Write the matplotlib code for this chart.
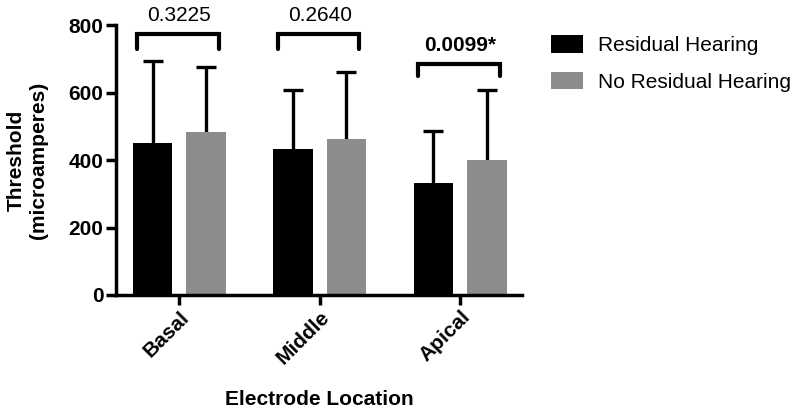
import numpy as np
import matplotlib.pyplot as plt

plt.rcParams['font.family'] = ['Liberation Sans', 'DejaVu Sans']

locations = ['Basal', 'Middle', 'Apical']
residual_mean = [452, 433, 333]
residual_sd = [243, 174, 152]
no_residual_mean = [484, 462, 401]
no_residual_sd = [193, 200, 208]
p_values = ['0.3225', '0.2640', '0.0099*']
p_bold = [False, False, True]
bracket_top = [773, 773, 684]
bracket_leg = [729, 729, 649]

fig = plt.figure(figsize=(8, 4.12), dpi=100)
ax = fig.add_axes([0.145, 0.284, 0.5075, 0.655])

x = np.arange(len(locations))
w = 0.28
off = 0.19
black = '#000000'
gray = '#8c8c8c'

ax.bar(x - off, residual_mean, w, color=black, label='Residual Hearing', zorder=2)
ax.bar(x + off, no_residual_mean, w, color=gray, label='No Residual Hearing', zorder=2)
for xs, m, sd in [(x - off, residual_mean, residual_sd), (x + off, no_residual_mean, no_residual_sd)]:
    eb = ax.errorbar(xs, m, yerr=[np.zeros(3), sd], fmt='none', ecolor='black',
                     elinewidth=2.4, capsize=7.5, capthick=2.4, zorder=1)
    eb[1][0].set_visible(False)  # no lower caps

# significance brackets
for i in range(len(locations)):
    x0 = i - off - 0.11
    x1 = i + off + 0.09
    ax.plot([x0, x0, x1, x1], [bracket_leg[i], bracket_top[i], bracket_top[i], bracket_leg[i]],
            color='black', lw=3, clip_on=False, solid_capstyle='round', solid_joinstyle='miter')
    ax.text(i, bracket_top[i] + 26, p_values[i], ha='center', va='bottom', fontsize=15,
            fontweight='bold' if p_bold[i] else 'normal', clip_on=False)

ax.set_xlim(-0.45, 2.44)
ax.set_ylim(0, 800)
ax.set_yticks([0, 200, 400, 600, 800])
ax.set_xticks(x)
ax.set_xticklabels(locations, rotation=45, ha='right', rotation_mode='anchor',
                   fontsize=15, fontweight='bold')
for lbl in ax.get_yticklabels():
    lbl.set_fontweight('bold')
    lbl.set_fontsize(15)

for s in ['top', 'right']:
    ax.spines[s].set_visible(False)
for s in ['left', 'bottom']:
    ax.spines[s].set_linewidth(2.5)
ax.tick_params(axis='both', width=2.5, length=7, pad=2)

ax.set_ylabel('Threshold\n(microamperes)', fontsize=15, fontweight='bold', labelpad=15)
ax.set_xlabel('Electrode Location', fontsize=15, fontweight='bold', labelpad=16)

ax.legend(loc='upper left', bbox_to_anchor=(0.678, 0.935), bbox_transform=fig.transFigure,
          frameon=False, fontsize=15, handlelength=1.55, handleheight=0.95,
          labelspacing=0.78, handletextpad=0.7, borderaxespad=0)

fig.savefig('out.png', dpi=100)
